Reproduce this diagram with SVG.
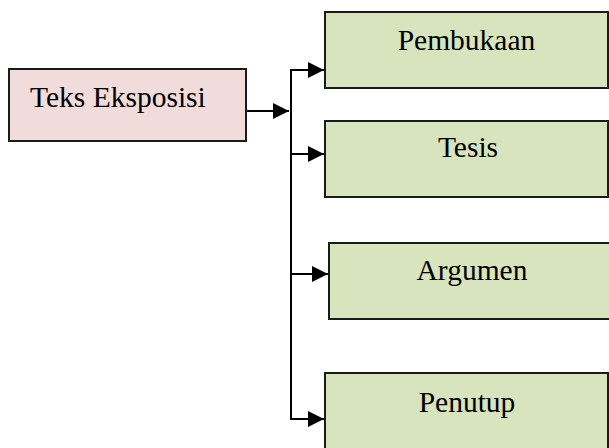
<svg xmlns="http://www.w3.org/2000/svg" width="609" height="448" viewBox="0 0 609 448">
<defs>
<style>
.box{stroke:#1a1a1a;stroke-width:2}
.g{fill:#D7E4BD}
.p{fill:#F2DCDB}
.t{font-family:"Liberation Serif","Times New Roman",serif;font-size:29.5px;fill:#000}
.c{text-anchor:middle}
.ln{fill:none;stroke:#000;stroke-width:2}
</style>
<marker id="ah" markerWidth="16" markerHeight="16" viewBox="0 0 16 16" refX="16" refY="8" orient="auto" markerUnits="userSpaceOnUse">
<path d="M0,0 L16,8 L0,16 Z" fill="#000"/>
</marker>
</defs>
<rect width="609" height="448" fill="#fff"/>
<g id="connectors">
<path class="ln" d="M246,111 H289" marker-end="url(#ah)"/>
<path class="ln" d="M291,69 V419"/>
<path class="ln" d="M290,70 H324" marker-end="url(#ah)"/>
<path class="ln" d="M290,154 H324" marker-end="url(#ah)"/>
<path class="ln" d="M290,274 H328" marker-end="url(#ah)"/>
<path class="ln" d="M290,419 H324" marker-end="url(#ah)"/>
</g>
<g id="teks-eksposisi">
<rect class="box p" x="9" y="69" width="237" height="72"/>
<text class="t" x="30" y="107">Teks Eksposisi</text>
</g>
<g id="pembukaan">
<rect class="box g" x="325" y="12" width="283" height="76"/>
<text class="t c" x="466.5" y="50">Pembukaan</text>
</g>
<g id="tesis">
<rect class="box g" x="325" y="121" width="283" height="76"/>
<text class="t c" x="468" y="157">Tesis</text>
</g>
<g id="argumen">
<rect class="box g" x="329" y="243" width="290" height="76"/>
<text class="t c" x="472" y="280">Argumen</text>
</g>
<g id="penutup">
<rect class="box g" x="325" y="373" width="283" height="90"/>
<text class="t c" x="467" y="412">Penutup</text>
</g>
</svg>
